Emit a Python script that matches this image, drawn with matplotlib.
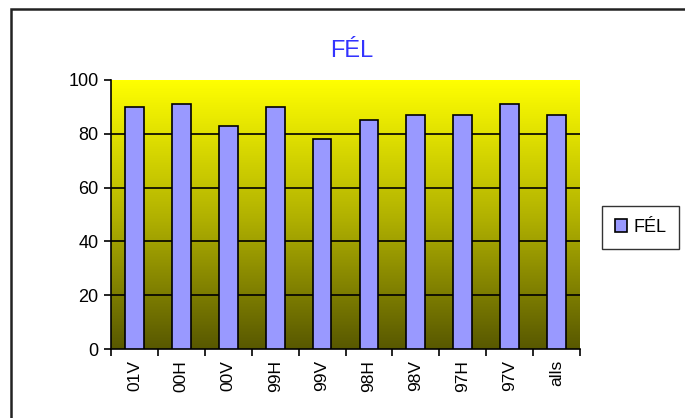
import matplotlib
matplotlib.use('Agg')
import matplotlib.pyplot as plt
import numpy as np
from matplotlib.colors import LinearSegmentedColormap
from matplotlib.patches import Rectangle

plt.rcParams['font.family'] = ['Liberation Sans', 'DejaVu Sans']

categories = ['01V', '00H', '00V', '99H', '99V', '98H', '98V', '97H', '97V', 'alls']
values = [90, 91, 83, 90, 78, 85, 87, 87, 91, 87]
series_name = 'FÉL'

fig = plt.figure(figsize=(6.85, 4.18), dpi=100)
fig.patch.set_facecolor('white')

# chart frame (runs off the right/bottom edge like the original)
fig.add_artist(Rectangle((11 / 685, -0.1), 1.2, 1 - 9 / 418 + 0.1,
                         transform=fig.transFigure, fill=False,
                         edgecolor='#222222', linewidth=1.8))

ax = fig.add_axes([111 / 685, 1 - 349 / 418, 469 / 685, 269 / 418])

# yellow-to-olive gradient background
cmap = LinearSegmentedColormap.from_list('bg', ['#585800', '#b3b300', '#ffff00'])
grad = np.linspace(0, 1, 256).reshape(-1, 1)
ax.imshow(grad, cmap=cmap, aspect='auto', origin='lower',
          extent=[0, len(categories), 0, 100], zorder=0)

x = np.arange(len(categories)) + 0.5
ax.bar(x, values, width=0.4, color='#9999ff', edgecolor='black',
       linewidth=1.2, zorder=3, label=series_name)

ax.set_xlim(0, len(categories))
ax.set_ylim(0, 100)
for yv in [20, 40, 60, 80]:
    ax.axhline(yv, color='black', linewidth=1.2, zorder=2)

ax.set_yticks([0, 20, 40, 60, 80, 100])
ax.set_xticks(np.arange(len(categories) + 1))
ax.set_xticklabels([])
ax.set_xticks(x, minor=True)
ax.set_xticklabels(categories, minor=True, rotation=90, fontsize=12.5)
ax.tick_params(axis='x', which='minor', length=0, pad=8)
ax.tick_params(axis='x', which='major', length=5, width=1.2, direction='out')
ax.tick_params(axis='y', length=5, width=1.2, direction='out', labelsize=13, pad=4)

for s in ['top', 'right']:
    ax.spines[s].set_visible(False)
ax.spines['left'].set_linewidth(1.2)
ax.spines['bottom'].set_linewidth(1.2)

fig.text(352 / 685, 1 - 51 / 418, 'FÉL', color='#3333ff', fontsize=17,
         ha='center', va='center')

leg = ax.legend(loc='center left', bbox_to_anchor=(1.047, 0.452), frameon=True,
                fancybox=False, edgecolor='black', fontsize=13,
                handlelength=0.7, handleheight=0.7, handletextpad=0.35,
                borderpad=0.7, borderaxespad=0)
leg.get_frame().set_linewidth(1.0)

plt.savefig('out.png', dpi=100)
